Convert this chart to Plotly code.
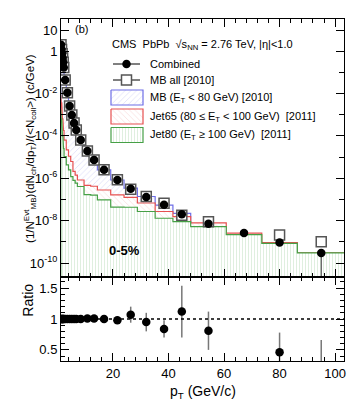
import plotly.graph_objects as go

# pT binning (GeV/c) and bin centres
pt_edges = [1.2, 1.4, 1.6, 1.8, 2.0, 2.2, 2.4, 3.2, 4.0, 4.8, 5.6, 6.4, 7.2, 9.6, 12.0,
            14.4, 19.2, 24.0, 28.8, 35.2, 41.6, 48.0, 60.8, 73.6, 86.4, 103.6]
pt = [1.3, 1.5, 1.7, 1.9, 2.1, 2.3, 2.8, 3.6, 4.4, 5.2, 6.0, 6.8, 8.4, 10.8, 13.2,
      16.8, 21.6, 26.4, 32.0, 38.4, 44.8, 54.4, 67.2, 80.0, 95.0]

# combined spectrum
combined = [2.0, 1.2, 0.76, 0.48, 0.30, 0.17, 4.4e-2, 1.1e-2, 2.6e-3, 9.8e-4, 4.1e-4, 1.9e-4,
            6.5e-5, 1.95e-5, 7.4e-6, 2.5e-6, 8.3e-7, 3.2e-7, 1.3e-7, 5.6e-8, 2.0e-8, 7.1e-9,
            2.6e-9, 9.3e-10, 3.0e-10]
comb_rel_up = [0.03, 0.03, 0.03, 0.03, 0.03, 0.03, 0.03, 0.03, 0.03, 0.03, 0.03, 0.03, 0.03,
               0.03, 0.03, 0.04, 0.05, 0.08, 0.1, 0.12, 0.2, 0.25, 0.3, 0.35, 0.4]
comb_rel_dn = [0.03, 0.03, 0.03, 0.03, 0.03, 0.03, 0.03, 0.03, 0.03, 0.03, 0.03, 0.03, 0.03,
               0.03, 0.03, 0.04, 0.05, 0.08, 0.1, 0.12, 0.2, 0.25, 0.3, 0.3, 0.97]

# MB all [2010]
mb_pt = [1.3, 1.5, 1.7, 1.9, 2.1, 2.3, 2.8, 3.6, 4.4, 5.2, 6.0, 6.8, 8.4, 10.8, 13.2,
         16.8, 21.6, 26.4, 32.0, 38.4, 44.8, 54.4, 80.0, 95.0]
mb_all = [2.0, 1.2, 0.76, 0.48, 0.30, 0.17, 4.4e-2, 1.1e-2, 2.6e-3, 9.8e-4, 4.1e-4, 1.9e-4,
          6.5e-5, 1.93e-5, 7.3e-6, 2.5e-6, 8.5e-7, 3.0e-7, 1.37e-7, 6.7e-8, 1.8e-8, 8.8e-9,
          2.1e-9, 1.0e-9]

# trigger-class histograms
mb_hist = [2.0, 1.2, 0.76, 0.48, 0.30, 0.17, 4.4e-2, 1.1e-2, 2.6e-3, 9.8e-4, 4.1e-4, 1.9e-4,
           6.5e-5, 1.95e-5, 7.4e-6, 2.5e-6, 8.3e-7, 3.4e-7, 1.38e-7, 5.4e-8, 2.2e-8]
jet65_hist = [8.5e-3, 3.5e-3, 1.6e-3, 6.3e-4, 3.3e-4, 1.8e-4, 6.3e-5, 2.2e-5, 1.1e-5, 6.2e-6,
              2.1e-6, 1.4e-6, 8.3e-7, 4.6e-7, 4.2e-7, 2.8e-7, 1.66e-7, 1.26e-7, 6.8e-8, 2.7e-8,
              1.55e-8, 7.8e-9, 2.6e-9, 9.3e-10, 3.0e-10]
jet80_hist = [1.7e-3, 6.3e-4, 2.5e-4, 1.0e-4, 5.0e-5, 2.5e-5, 1.05e-5, 4.3e-6, 2.5e-6, 1.2e-6,
              7.9e-7, 5.9e-7, 4.1e-7, 1.7e-7, 1.6e-7, 9.5e-8, 4.4e-8, 4.3e-8, 2.7e-8, 1.3e-8,
              9.1e-9, 5.2e-9, 2.2e-9, 8.5e-10, 3.0e-10]

# ratio panel
ratio = [1.0, 1.0, 1.0, 1.0, 1.0, 1.0, 1.0, 1.0, 1.0, 1.0, 1.0, 1.0, 1.0, 1.01, 1.01, 1.0,
         0.98, 1.07, 0.95, 0.84, 1.12, 0.81, 0.46, 0.25]
ratio_err = [0.01, 0.01, 0.01, 0.01, 0.01, 0.01, 0.01, 0.01, 0.01, 0.01, 0.01, 0.01, 0.01,
             0.02, 0.02, 0.02, 0.04, 0.13, 0.15, 0.14, 0.42, 0.31, 0.32, 0.41]

FONT = "Liberation Sans, Arial, sans-serif"
BLUE = "rgb(110,110,230)"
RED = "rgb(230,80,80)"
GREEN = "rgb(70,160,70)"
FLOOR = 1e-12

PATTERNS = {
    BLUE: dict(shape="/", fgcolor="rgba(120,120,230,0.5)", bgcolor="white", size=4, solidity=0.2),
    RED: dict(shape="\\", fgcolor="rgba(230,110,110,0.45)", bgcolor="white", size=4, solidity=0.2),
    GREEN: dict(shape="|", fgcolor="rgba(90,170,90,0.45)", bgcolor="white", size=3, solidity=0.3),
}


def step_poly(edges, vals):
    xs, ys = [edges[0]], [FLOOR]
    for i, v in enumerate(vals):
        xs += [edges[i], edges[i + 1]]
        ys += [v, v]
    xs.append(edges[len(vals)])
    ys.append(FLOOR)
    return xs, ys


fig = go.Figure()

for vals, col in [(mb_hist, BLUE), (jet65_hist, RED), (jet80_hist, GREEN)]:
    hx, hy = step_poly(pt_edges, vals)
    fig.add_trace(go.Scatter(x=hx, y=hy, mode="lines", fill="toself",
                             line=dict(color=col, width=1.2), fillpattern=PATTERNS[col],
                             xaxis="x", yaxis="y", showlegend=False, hoverinfo="skip"))

fig.add_trace(go.Scatter(x=mb_pt, y=mb_all, mode="markers",
                         marker=dict(symbol="square", size=10, color="white",
                                     line=dict(color="#555", width=1.5)),
                         xaxis="x", yaxis="y", showlegend=False))

fig.add_trace(go.Scatter(
    x=pt, y=combined, mode="markers",
    marker=dict(symbol="circle", size=8.5, color="black"),
    error_y=dict(type="data", symmetric=False,
                 array=[v * e for v, e in zip(combined, comb_rel_up)],
                 arrayminus=[v * e for v, e in zip(combined, comb_rel_dn)],
                 color="#333", thickness=1, width=0),
    xaxis="x", yaxis="y", showlegend=False))

fig.add_trace(go.Scatter(
    x=mb_pt, y=ratio, mode="markers",
    marker=dict(symbol="circle", size=8.5, color="black"),
    error_y=dict(type="data", array=ratio_err, color="#777", thickness=1.5, width=0),
    xaxis="x2", yaxis="y2", showlegend=False))

# ---- hand-made legend, drawn on an overlay axis in pixel units ----
L = dict(xaxis="x3", yaxis="y3", showlegend=False, hoverinfo="skip")
fig.add_trace(go.Scatter(x=[113, 140], y=[64, 64], mode="lines",
                         line=dict(color="black", width=1), **L))
fig.add_trace(go.Scatter(x=[126.5], y=[64], mode="markers",
                         marker=dict(size=8.5, color="black"), **L))
fig.add_trace(go.Scatter(x=[113, 140], y=[80, 80], mode="lines",
                         line=dict(color="black", width=1), **L))
fig.add_trace(go.Scatter(x=[126.5], y=[80], mode="markers",
                         marker=dict(symbol="square", size=10, color="white",
                                     line=dict(color="#555", width=1.5)), **L))
for yc, col in [(97.5, BLUE), (116.5, RED), (135, GREEN)]:
    fig.add_trace(go.Scatter(x=[111, 143, 143, 111, 111],
                             y=[yc - 7.5, yc - 7.5, yc + 7.5, yc + 7.5, yc - 7.5],
                             mode="lines", fill="toself", line=dict(color=col, width=1.2),
                             fillpattern=PATTERNS[col], **L))

leg_texts = [
    (110, 45, "CMS  PbPb  √s<sub>NN</sub> = 2.76 TeV, |η|<1.0"),
    (148, 64, "Combined"),
    (148, 80, "MB all [2010]"),
    (148, 97.5, "MB (E<sub>T</sub> < 80 GeV) [2010]"),
    (148, 116.5, "Jet65 (80 ≤ E<sub>T</sub> < 100 GeV)  [2011]"),
    (148, 135, "Jet80 (E<sub>T</sub> ≥ 100 GeV)  [2011]"),
]
annotations = [dict(x=x, y=y, xref="x3", yref="y3", text=t, showarrow=False,
                    xanchor="left", yanchor="middle", font=dict(size=11, family=FONT))
               for x, y, t in leg_texts]

annotations += [
    dict(x=73, y=29, xref="x3", yref="y3", text="(b)", showarrow=False,
         xanchor="left", yanchor="middle", font=dict(size=11, family=FONT)),
    dict(x=107, y=250, xref="x3", yref="y3", text="<b>0-5%</b>", showarrow=False,
         xanchor="left", yanchor="middle", font=dict(size=13, family=FONT)),
    dict(x=-0.145, y=0.623, xref="paper", yref="paper", textangle=-90, showarrow=False,
         text="(1/N<sup>Evt</sup><sub>MB</sub>)(dN<sub>ch</sub>/dp<sub>T</sub>)/(&lt;N<sub>coll</sub>&gt;) (c/GeV)",
         font=dict(size=11.5, family=FONT)),
    dict(x=-0.155, y=0.1228, xref="paper", yref="paper", textangle=-90, showarrow=False,
         text="Ratio", font=dict(size=14, family=FONT)),
    dict(x=0.5, y=-0.09, xref="paper", yref="paper", showarrow=False, yanchor="middle",
         text="p<sub>T</sub> (GeV/c)", font=dict(size=14, family=FONT)),
]

ax_common = dict(showline=True, linecolor="black", linewidth=1, mirror="ticks",
                 ticks="inside", tickcolor="black", showgrid=False, zeroline=False,
                 tickfont=dict(size=13, family=FONT, color="black"))

fig.update_layout(
    width=359, height=420,
    margin=dict(l=61, r=15, t=19, b=59),
    paper_bgcolor="white", plot_bgcolor="white",
    font=dict(family=FONT, color="black"),
    annotations=annotations,
    shapes=[dict(type="line", xref="paper", yref="y2", x0=0, x1=1, y0=1, y1=1,
                 line=dict(color="black", width=1.5, dash="dot"))],
    xaxis=dict(domain=[0, 1], anchor="y", range=[1.3, 103.2], showticklabels=False,
               tickvals=[20, 40, 60, 80, 100], ticklen=8,
               minor=dict(ticks="inside", dtick=4, tick0=0, ticklen=4, tickcolor="black"),
               **ax_common),
    yaxis=dict(domain=[0.2456, 1], anchor="x", type="log", range=[-10.66, 1.52],
               tickvals=[10, 1, 1e-2, 1e-4, 1e-6, 1e-8, 1e-10],
               ticktext=["10", "1", "10<sup>-2</sup>", "10<sup>-4</sup>", "10<sup>-6</sup>",
                         "10<sup>-8</sup>", "10<sup>-10</sup>"], ticklen=8,
               minor=dict(ticks="inside", tickvals=[1e-1, 1e-3, 1e-5, 1e-7, 1e-9],
                          ticklen=5, tickcolor="black"),
               **ax_common),
    xaxis2=dict(domain=[0, 1], anchor="y2", range=[1.3, 103.2], matches="x",
                tickvals=[20, 40, 60, 80, 100], ticklen=8,
                minor=dict(ticks="inside", dtick=4, tick0=0, ticklen=4, tickcolor="black"),
                **ax_common),
    yaxis2=dict(domain=[0, 0.2456], anchor="x2", range=[0.32, 1.68],
                tickvals=[0.5, 1, 1.5], ticktext=["0.5", "1", "1.5"], ticklen=8,
                minor=dict(ticks="inside", dtick=0.1, tick0=0, ticklen=4, tickcolor="black"),
                **ax_common),
    xaxis3=dict(overlaying="x", range=[61, 344], visible=False, anchor="y3"),
    yaxis3=dict(overlaying="y", range=[277, 19], visible=False, anchor="x3"),
)

fig.write_html("out.html", config={"displayModeBar": False},
               post_script="document.body.style.margin='0';")
